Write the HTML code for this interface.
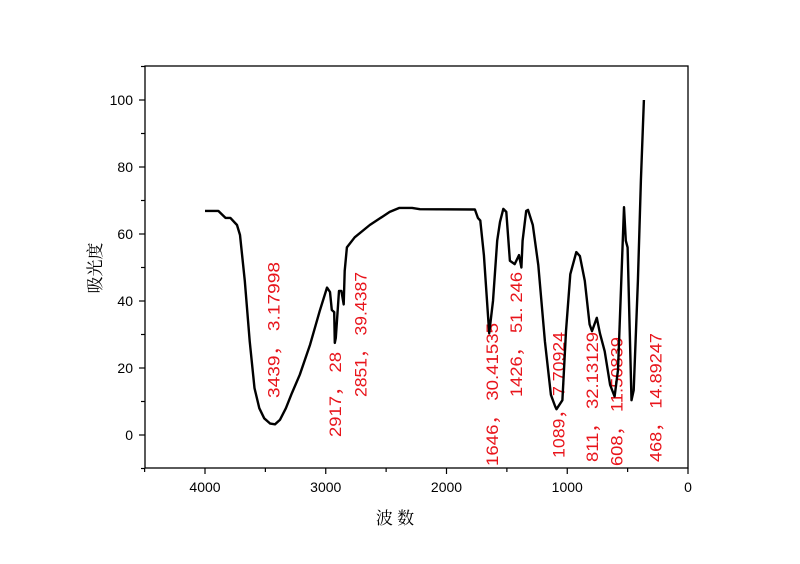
<!DOCTYPE html>
<html><head><meta charset="utf-8"><style>body{margin:0;background:#fff}svg{display:block}</style></head>
<body>
<svg id="chart" width="800" height="564" xmlns="http://www.w3.org/2000/svg"></svg>
<script>
const wavenumbers=[4000,3890,3830,3790,3735,3710,3670,3630,3590,3550,3510,3460,3420,3380,3330,3280,3215,3130,3050,2990,2965,2950,2930,2925,2917,2890,2870,2851,2843,2825,2760,2635,2470,2390,2285,2220,1765,1740,1720,1690,1646,1615,1580,1557,1530,1505,1475,1435,1400,1380,1370,1340,1325,1285,1240,1185,1135,1100,1089,1040,1010,975,925,895,855,815,795,755,730,690,645,608,580,530,515,500,468,450,415,390,365];
const absorbance=[66.9,66.9,64.8,64.8,62.7,59.7,46,28,14,8,5,3.4,3.2,4.5,8,12.5,18,27,37,44,42.7,37.3,36.7,27.5,29,43,43,39,49,56,59,62.7,66.6,67.8,67.8,67.4,67.3,64.8,64,53.7,30.4,40,58,63.6,67.5,66.6,52,51,53.7,50,58,66.9,67.2,62.7,50.7,28,12,8.5,7.7,10.4,31,48,54.6,53.4,46,33,31,35,30.4,25,15,11.5,19.4,68,58,56,10.4,13.4,46,76,100];
const xTicks=[4000,3000,2000,1000,0];
const yTicks=[0,20,40,60,80,100];
const peakLabels=["3439， 3.17998","2917， 28","2851， 39.4387","1646， 30.41535","1426， 51. 246","1089， 7.70924","811， 32.13129","608， 11.50839","468， 14.89247"];
const peakWn=[3439,2917,2851,1646,1426,1089,811,608,468];
const labelBottom=[398,437,397,466,397,458,462,466,462];
const labelLen=[136,85,125,143,125,126,130,129,129];
const labelShift=[7,5,23,9,6,8,8,8,30];

const L=145,R=688,T=66,B=468;
const xs=v=>688-v*0.12075;
const ys=v=>435-v*3.35;
const svg=document.getElementById('chart');
const NS='http://www.w3.org/2000/svg';
function mk(t,a,p){const e=document.createElementNS(NS,t);for(const k in a)e.setAttribute(k,a[k]);(p||svg).appendChild(e);return e;}

const frame=mk('rect',{x:L,y:T,width:R-L,height:B-T,fill:'none',stroke:'#000','stroke-width':1.3});



for(let v=4500;v>=0;v-=500){const x=xs(v);const major=v%1000===0;
 const t=mk('line',{x1:x,y1:B,x2:x,y2:B+(major?6:4),stroke:'#000','stroke-width':1.2});
 
 }
xTicks.forEach(v=>{const t=mk('text',{x:xs(v),y:B+24,'text-anchor':'middle','font-family':'Liberation Sans, sans-serif','font-size':14});t.textContent=v;
 
 });
for(let v=-10;v<=110;v+=10){const y=ys(v);const major=v%20===0;
 const t=mk('line',{x1:L,y1:y,x2:L-(major?6:4),y2:y,stroke:'#000','stroke-width':1.2});
 
 }
yTicks.forEach(v=>{const t=mk('text',{x:L-12,y:ys(v)+5,'text-anchor':'end','font-family':'Liberation Sans, sans-serif','font-size':14});t.textContent=v;
 
 });

const yt=mk('text',{x:0,y:0,transform:'translate(101,268) rotate(-90)','text-anchor':'middle','font-family':'Liberation Serif, Noto Serif CJK SC, serif','font-size':17});yt.textContent='吸光度';


const xt=mk('text',{x:395,y:524,'text-anchor':'middle','font-family':'Liberation Serif, Noto Serif CJK SC, serif','font-size':17});xt.textContent='波 数';



peakLabels.forEach((s,i)=>{const x=xs(peakWn[i])+labelShift[i];
 const t=mk('text',{x:0,y:0,transform:`translate(${x},${labelBottom[i]}) rotate(-90)`,fill:'#e8141b','font-family':'Liberation Sans, Noto Sans CJK SC, sans-serif','font-size':17,textLength:labelLen[i],lengthAdjust:'spacingAndGlyphs'});
 t.textContent=s;
 
 });

const d=wavenumbers.map((w,i)=>(i?'L':'M')+xs(w).toFixed(1)+','+ys(absorbance[i]).toFixed(1)).join(' ');
const p=mk('path',{d:d,fill:'none',stroke:'#000','stroke-width':2.4,'stroke-linejoin':'round'});


</script>
</body></html>
